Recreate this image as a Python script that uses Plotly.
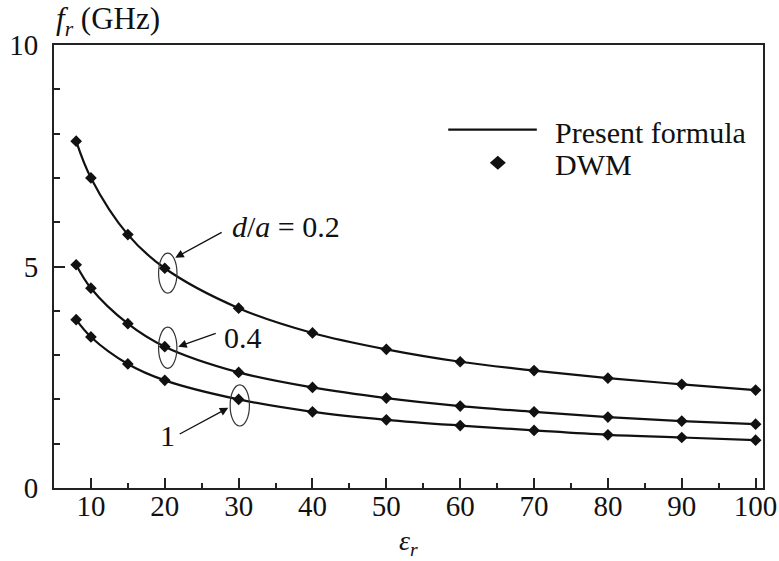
import plotly.graph_objects as go

# permittivity values (x)
eps_r = [8, 10, 15, 20, 30, 40, 50, 60, 70, 80, 90, 100]

# DWM values (GHz)
dwm_02 = [7.83, 7.00, 5.72, 4.96, 4.06, 3.50, 3.13, 2.85, 2.65, 2.48, 2.34, 2.21]
dwm_04 = [5.04, 4.51, 3.71, 3.19, 2.61, 2.27, 2.03, 1.85, 1.72, 1.60, 1.51, 1.44]
dwm_1 = [3.80, 3.41, 2.80, 2.43, 2.00, 1.72, 1.54, 1.41, 1.30, 1.20, 1.14, 1.08]

# Present formula curves (read at the same abscissae)
formula_02 = [7.83, 7.00, 5.72, 4.96, 4.06, 3.50, 3.13, 2.85, 2.65, 2.48, 2.34, 2.21]
formula_04 = [5.04, 4.51, 3.71, 3.19, 2.61, 2.27, 2.03, 1.85, 1.72, 1.60, 1.51, 1.44]
formula_1 = [3.80, 3.41, 2.80, 2.43, 2.00, 1.72, 1.54, 1.41, 1.30, 1.20, 1.14, 1.08]

x_ticks = [10, 20, 30, 40, 50, 60, 70, 80, 90, 100]
y_ticks = [0, 5, 10]

FONT = "Liberation Serif"
INK = "#111111"

fig = go.Figure()

for ys in (formula_02, formula_04, formula_1):
    fig.add_trace(go.Scatter(x=eps_r, y=ys, mode="lines",
                             line=dict(color=INK, width=2.2, shape="spline", smoothing=1.0),
                             showlegend=False, hoverinfo="skip"))
for ys in (dwm_02, dwm_04, dwm_1):
    fig.add_trace(go.Scatter(x=eps_r, y=ys, mode="markers",
                             marker=dict(symbol="diamond", size=9, color=INK),
                             showlegend=False))

# ellipses around marked points
ell_style = dict(type="circle", xref="x", yref="y", line=dict(color="#333333", width=1.2))
fig.add_shape(x0=19.16, x1=21.65, y0=4.40, y1=5.30, **ell_style)
fig.add_shape(x0=19.16, x1=21.64, y0=2.70, y1=3.63, **ell_style)
fig.add_shape(x0=28.85, x1=31.46, y0=1.40, y1=2.33, **ell_style)

# arrows
arrow_style = dict(xref="x", yref="y", axref="x", ayref="y", text="", showarrow=True,
                   arrowhead=2, arrowsize=1.3, arrowwidth=1.3, arrowcolor=INK, standoff=0, startstandoff=0)
fig.add_annotation(x=21.42, y=5.20, ax=27.9, ay=5.79, **arrow_style)
fig.add_annotation(x=21.82, y=3.19, ax=27.1, ay=3.50, **arrow_style)
fig.add_annotation(x=28.6, y=1.81, ax=21.82, ay=1.20, **arrow_style)

# labels
lab = dict(xref="x", yref="y", showarrow=False, font=dict(family=FONT, size=30, color=INK))
fig.add_annotation(x=28.85, y=5.90, text="<i>d</i>/<i>a</i> = 0.2", xanchor="left", yanchor="middle", **lab)
fig.add_annotation(x=27.77, y=3.39, text="0.4", xanchor="left", yanchor="middle", **lab)
fig.add_annotation(x=21.7, y=1.18, text="1", xanchor="right", yanchor="middle", **lab)

# manual legend
fig.add_shape(type="line", xref="paper", yref="paper", x0=0.556, x1=0.681, y0=0.809, y1=0.809,
              line=dict(color=INK, width=2.2))
fig.add_shape(type="path", xref="paper", yref="paper", xsizemode="pixel", ysizemode="pixel",
              xanchor=0.626, yanchor=0.734, path="M-8,0 L0,7 L8,0 L0,-7 Z",
              fillcolor=INK, line=dict(color=INK, width=0))
leg = dict(xref="paper", yref="paper", showarrow=False, xanchor="left", yanchor="middle",
           font=dict(family=FONT, size=30, color=INK))
fig.add_annotation(x=0.704, y=0.802, text="Present formula", **leg)
fig.add_annotation(x=0.704, y=0.730, text="DWM", **leg)

# y-axis title at top-left
fig.add_annotation(x=0.0, y=1.0, xref="paper", yref="paper", xanchor="left", yanchor="bottom",
                   yshift=2, showarrow=False, text="<i>f</i><sub><i>r</i></sub> (GHz)",
                   font=dict(family=FONT, size=31, color=INK))

# x-axis title below the tick labels
fig.add_annotation(x=0.5, y=-0.124, xref="paper", yref="paper", xanchor="center", yanchor="middle",
                   showarrow=False, text="<i>ε</i><sub><i>r</i></sub>",
                   font=dict(family=FONT, size=28, color=INK))

axis_common = dict(showgrid=False, zeroline=False, showline=True, linecolor="#222222", linewidth=2,
                   mirror=True, ticks="inside", tickcolor="#222222", tickwidth=2, automargin=False,
                   tickfont=dict(family=FONT, size=29, color=INK))

fig.update_xaxes(range=[5, 101], tickvals=x_ticks, ticklen=10, ticklabelstandoff=-9,
                 minor=dict(ticks="inside", dtick=5, tick0=0, ticklen=5, tickwidth=2, tickcolor="#222222"),
                 **axis_common)
fig.update_yaxes(range=[0, 10], tickvals=y_ticks, ticklen=11, ticklabelstandoff=8,
                 minor=dict(ticks="inside", dtick=1, tick0=0, ticklen=6, tickwidth=2, tickcolor="#222222"),
                 **axis_common)

fig.update_layout(width=779, height=561, margin=dict(l=54, r=16, t=45, b=73),
                  plot_bgcolor="white", paper_bgcolor="white", showlegend=False)

fig.write_html("out.html")
